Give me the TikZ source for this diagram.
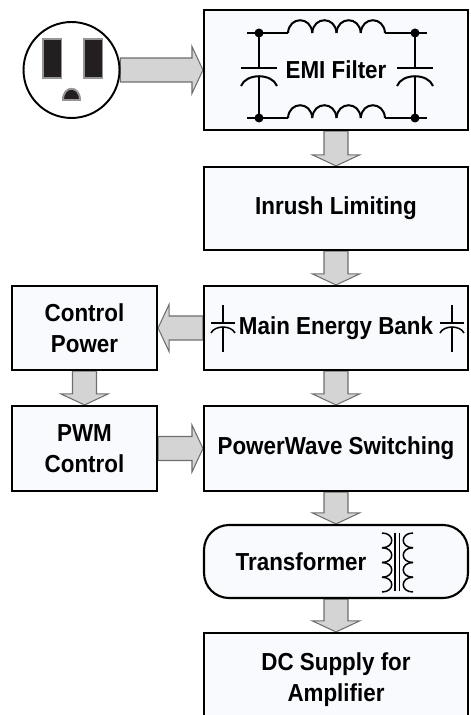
\documentclass[tikz,border=0pt]{standalone}
\usepackage{fontspec}
\setmainfont{Liberation Sans}[FakeStretch=0.91]
\usetikzlibrary{calc,backgrounds}

\definecolor{boxfill}{RGB}{249,250,253}
\definecolor{arrowfill}{RGB}{212,212,212}
\definecolor{arrowline}{RGB}{110,110,110}
\definecolor{prongblack}{RGB}{35,31,32}
\definecolor{pronggray}{RGB}{150,150,150}

% fat gray arrow, from #1.south down to #2.north
\newcommand{\downblock}[2]{%
  \draw[blockarrow] ($(#1.south)+(-12,0)$) -- ($(#2.north)+(-12,-11)$) -- ($(#2.north)+(-23.5,-11)$)
    -- (#2.north) -- ($(#2.north)+(23.5,-11)$) -- ($(#2.north)+(12,-11)$) -- ($(#1.south)+(12,0)$) -- cycle;}
% fat gray arrow, sideways from #1 to #2 (#3 = 1 right, -1 left)
\newcommand{\sideblock}[3]{%
  \draw[blockarrow] ($(#1)+(0,-12)$) -- ($(#2)+({-11*(#3)},-12)$) -- ($(#2)+({-11*(#3)},-23.5)$)
    -- (#2) -- ($(#2)+({-11*(#3)},23.5)$) -- ($(#2)+({-11*(#3)},12)$) -- ($(#1)+(0,12)$) -- cycle;}

\begin{document}
\begin{tikzpicture}[x=0.02cm, y=-0.02cm,
  txt/.style={font=\bfseries\fontsize{14}{17.5}\selectfont, align=center},
  box/.style={txt, draw, line width=1.2pt, fill=boxfill, minimum width=5.28cm},
  blockarrow/.style={draw=arrowline, fill=arrowfill, line width=0.6pt},
  wire/.style={line width=1.15pt},
  prong/.style={fill=prongblack, draw=pronggray, line width=1.1pt}]
  \useasboundingbox (0,0) rectangle (470,715);

  % outlet
  \node[draw, circle, line width=1.1pt, fill=white, minimum size=1.92cm, inner sep=0pt] (outlet) at (71.5,70) {};
  \draw[prong] (43,39) rectangle (61.5,78);
  \draw[prong] (84,39) rectangle (102.5,78);
  \draw[prong] (63,100) .. controls (63,85) and (80,85) .. (80,100) -- cycle;

  % main chain
  \node[box, minimum height=2.4cm]  (emi)       at (336,70)    {EMI Filter};
  \node[box, minimum height=1.66cm] (inrush)    at (336,208.5) {Inrush Limiting};
  \node[box, minimum height=1.68cm] (bank)      at (336,328)   {Main Energy Bank};
  \node[box, minimum height=1.7cm]  (switching) at (336,448.5) {PowerWave Switching};
  \node[box, minimum height=1.46cm, rounded corners=0.5cm] (xfmr) at (336,561.5) {};
  \node[txt] (xfmrtext) at (301,561.5) {Transformer};
  \node[box, minimum height=1.88cm] (dcsupply)  at (336,680)   {DC Supply for\\Amplifier};

  % control side
  \node[box, minimum width=2.9cm, minimum height=1.68cm] (ctrlpower) at (84.5,328)   {Control\\Power};
  \node[box, minimum width=2.9cm, minimum height=1.7cm]  (pwm)       at (84.5,448.5) {PWM\\Control};

  \begin{scope}[on background layer]
    \sideblock{outlet.east}{emi.west}{1}
    \downblock{emi}{inrush}
    \downblock{inrush}{bank}
    \sideblock{bank.west}{ctrlpower.east}{-1}
    \downblock{bank}{switching}
    \downblock{ctrlpower}{pwm}
    \sideblock{pwm.east}{switching.west}{1}
    \downblock{switching}{xfmr}
    \downblock{xfmr}{dcsupply}
  \end{scope}

  % EMI filter network
  \foreach \y in {33,118} {
    \draw[wire] (247,\y) -- (288,\y);
    \foreach \x in {288,312.25,336.5,360.75}
      \draw[wire] (\x,\y) .. controls +(1,-17) and +(-1,-17) .. ++(24.25,0);
    \draw[wire] (385,\y) -- (427,\y);
    \fill (259,\y) circle[radius=4.5];
    \fill (415,\y) circle[radius=4.5];
  }
  \foreach \x in {259,415} {
    \draw[wire] (\x,33) -- (\x,68);
    \draw[wire] (\x-18,68) -- (\x+18,68);
    \draw[wire] (\x-18,86) .. controls (\x-13,73) and (\x+13,73) .. (\x+18,86);
    \draw[wire] (\x,77) -- (\x,118);
  }

  % energy bank capacitors
  \foreach \x in {223,452} {
    \draw[line width=0.85pt] (\x,305) -- (\x,323) (\x-12,323) -- (\x+12,323);
    \draw[line width=0.85pt] (\x-12,333) .. controls (\x-8,325) and (\x+8,325) .. (\x+12,333);
    \draw[line width=0.85pt] (\x,327) -- (\x,352);
  }

  % transformer windings
  \foreach \y in {533,547.75,562.5,577.25} {
    \draw[line width=0.85pt] (382,\y) .. controls +(13,0) and +(13,0) .. (382,\y+14.75);
    \draw[line width=0.85pt] (413,\y) .. controls +(-13,0) and +(-13,0) .. (413,\y+14.75);
  }
  \draw[line width=0.7pt] (395,533) -- (395,591) (399.5,533) -- (399.5,591);
\end{tikzpicture}
\end{document}
